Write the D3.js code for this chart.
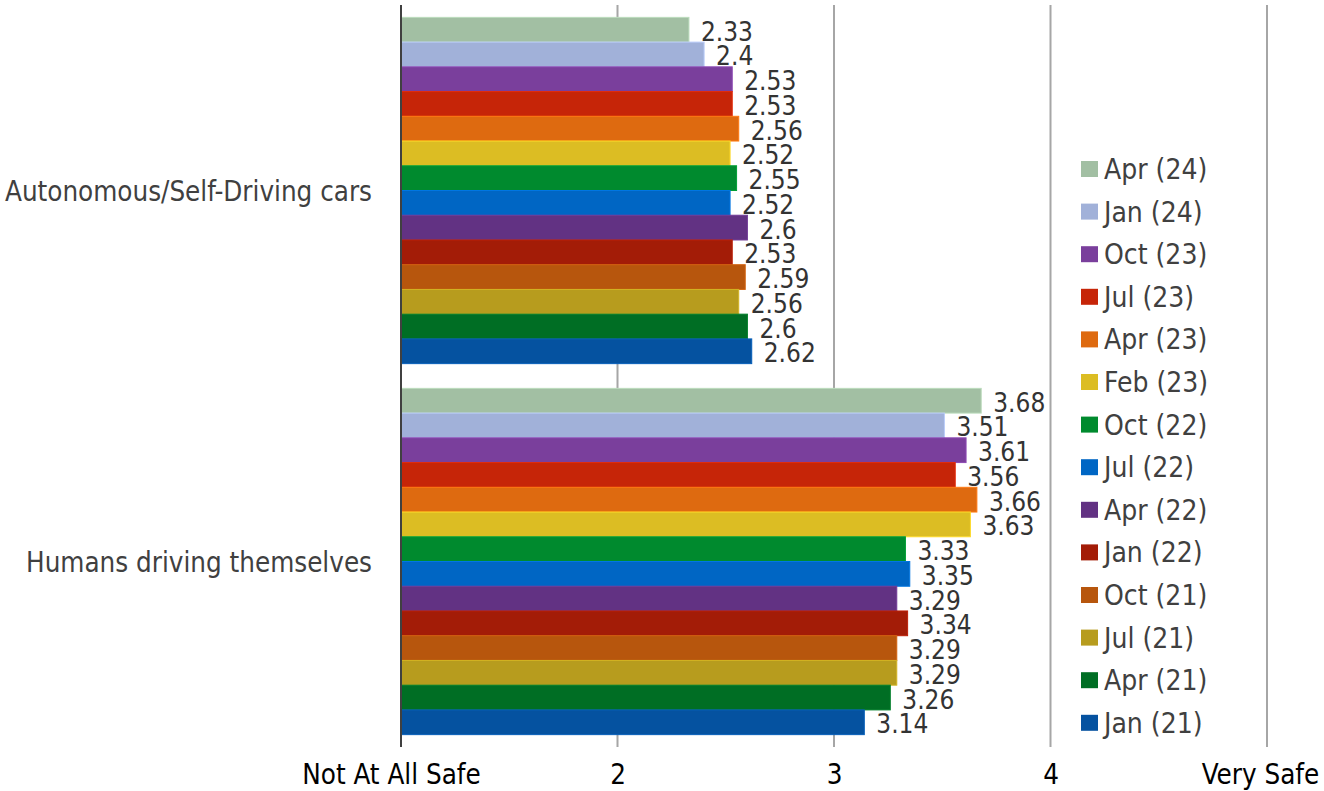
<!DOCTYPE html>
<html>
<head>
<meta charset="utf-8">
<script src="https://cdn.jsdelivr.net/npm/d3@7"></script>
<style>
  html, body { margin: 0; padding: 0; background: #fff; }
  svg { display: block; }
  text { font-family: "DejaVu Sans Condensed", "DejaVu Sans", sans-serif; font-stretch: condensed; }
</style>
</head>
<body>
<svg id="chart" width="1324" height="791"></svg>
<script>
const categories = ["Autonomous/Self-Driving cars", "Humans driving themselves"];
const seriesNames = ["Apr (24)", "Jan (24)", "Oct (23)", "Jul (23)", "Apr (23)", "Feb (23)", "Oct (22)",
                     "Jul (22)", "Apr (22)", "Jan (22)", "Oct (21)", "Jul (21)", "Apr (21)", "Jan (21)"];
const autonomousValues = [2.33, 2.4, 2.53, 2.53, 2.56, 2.52, 2.55, 2.52, 2.6, 2.53, 2.59, 2.56, 2.6, 2.62];
const humanValues = [3.68, 3.51, 3.61, 3.56, 3.66, 3.63, 3.33, 3.35, 3.29, 3.34, 3.29, 3.29, 3.26, 3.14];
const seriesColors = ["#a2bfa3", "#a1b1d9", "#7a3f9c", "#c62508", "#de6a10", "#dcbd23", "#008a2e",
                      "#0066c4", "#623283", "#a31c07", "#b7560d", "#b79c1e", "#006e24", "#0552a0"];
const tickValues = [1, 2, 3, 4, 5];
const tickLabels = ["Not At All Safe", "2", "3", "4", "Very Safe"];

const valuesByCategory = [autonomousValues, humanValues];
const rows = [];
categories.forEach((c, ci) => seriesNames.forEach((s, si) => rows.push({cat: c, series: s, value: valuesByCategory[ci][si], color: seriesColors[si]})));

const svg = d3.select("#chart");
const plotTop = 5, plotBottom = 747, plotLeft = 401, plotRight = 1267;

const x = d3.scaleLinear().domain([1, 5]).range([plotLeft, plotRight]);
const y0 = d3.scaleBand().domain(categories).range([plotTop, plotBottom]).padding(0);
const y1 = d3.scaleBand().domain(seriesNames).range([0, y0.bandwidth()]).paddingInner(0).paddingOuter(0.5);
const color = d3.scaleOrdinal().domain(seriesNames).range(seriesColors);

// gridlines
const grid = svg.append("g");
grid.selectAll("line").data(tickValues.slice(1)).join("line")
  .attr("x1", d => x(d)).attr("x2", d => x(d))
  .attr("y1", plotTop).attr("y2", plotBottom)
  .attr("stroke", "#a6a6a6").attr("stroke-width", 2);

// bars
svg.append("g").selectAll("rect").data(rows).join("rect")
  .attr("x", x(1))
  .attr("y", d => y0(d.cat) + y1(d.series))
  .attr("width", d => x(d.value) - x(1))
  .attr("height", y1.bandwidth())
  .attr("fill", d => color(d.series))
  .attr("stroke", d => d3.color(color(d.series)).brighter(0.4))
  .attr("stroke-width", 1);

// value labels
svg.append("g").selectAll("text").data(rows).join("text")
  .attr("x", d => x(d.value) + 12)
  .attr("y", d => y0(d.cat) + y1(d.series) + y1.bandwidth() / 2 + 11)
  .attr("font-size", 26)
  .attr("fill", "#333333")
  .text(d => d.value);

// left axis line
svg.append("line")
  .attr("x1", x(1)).attr("x2", x(1))
  .attr("y1", plotTop).attr("y2", plotBottom)
  .attr("stroke", "#404040").attr("stroke-width", 2);

// bottom axis labels
const xAxis = d3.axisBottom(x).tickValues(tickValues).tickSize(0)
  .tickFormat((d, i) => tickLabels[i]);
const ax = svg.append("g").attr("transform", `translate(0, ${plotBottom})`).call(xAxis);
ax.select(".domain").remove();
ax.selectAll("text")
  .attr("font-size", 27.5)
  .attr("font-family", null)
  .attr("fill", "#000")
  .attr("y", 17)
  .attr("dx", (d, i) => i === 0 ? -10 : (i === tickValues.length - 1 ? -7 : 0));

// category labels
svg.append("g").selectAll("text").data(categories).join("text")
  .attr("x", plotLeft - 29)
  .attr("y", d => y0(d) + y0.bandwidth() / 2 + 10)
  .attr("text-anchor", "end")
  .attr("font-size", 27.5)
  .attr("fill", "#404040")
  .text(d => d);

// legend
const legend = svg.append("g").attr("transform", "translate(1081, 169)");
const li = legend.selectAll("g").data(seriesNames).join("g")
  .attr("transform", (d, i) => `translate(0, ${i * 42.6})`);
li.append("rect").attr("x", 0).attr("y", -8).attr("width", 17).attr("height", 16).attr("fill", d => color(d));
li.append("text").attr("x", 23).attr("y", 10).attr("font-size", 28).attr("fill", "#404040").text(d => d);
</script>
</body>
</html>
